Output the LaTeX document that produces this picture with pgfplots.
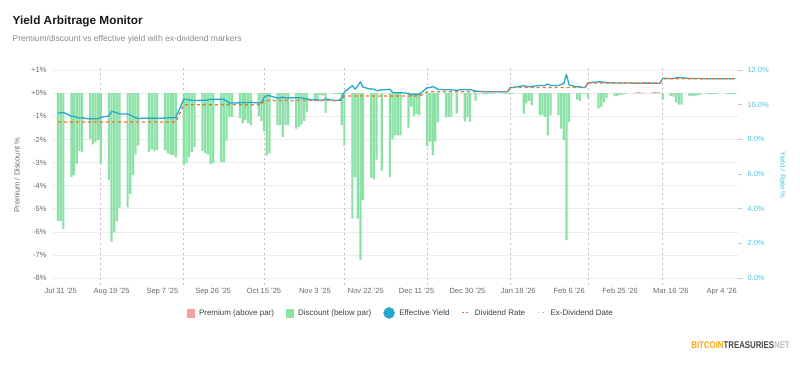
\documentclass[border=0pt]{standalone}
\usepackage{pgfplots}
\pgfplotsset{compat=1.18}
\usepackage{pgfplotstable}
\usepackage{fontspec}
\setmainfont{Liberation Sans}
\usepackage{graphicx}
\definecolor{disc}{RGB}{140,225,166}
\definecolor{prem}{RGB}{242,160,160}
\definecolor{yld}{RGB}{38,168,204}
\definecolor{ratec}{RGB}{232,118,40}
\definecolor{exdiv}{RGB}{192,192,192}
\definecolor{gridc}{RGB}{236,236,236}
\definecolor{tickc}{RGB}{105,105,105}
\definecolor{rtick}{RGB}{84,194,220}
\definecolor{subt}{RGB}{135,135,135}
\definecolor{logoor}{RGB}{245,168,20}
\definecolor{logogr}{RGB}{70,70,70}

% d = days since Jul 31 2025; pd = premium/discount %; yld = effective yield %; rate = dividend rate %
\pgfplotstableread{
d pd yld rate
-1 -5.53 9.52 9
0 -5.53 9.52 9
1 -5.88 9.56 9
4 -3.62 9.34 9
5 -3.55 9.33 9
6 -3.05 9.28 9
7 -2.50 9.23 9
8 -2.55 9.24 9
11 -1.98 9.18 9
12 -2.22 9.20 9
13 -2.12 9.19 9
14 -2.02 9.19 9
15 -3.05 9.28 9
18 -3.76 9.35 9
19 -6.42 9.62 9
20 -6.02 9.58 9
21 -5.55 9.53 9
22 -4.96 9.47 9
25 -4.94 9.47 9
26 -4.36 9.41 9
27 -3.54 9.33 9
28 -2.66 9.25 9
29 -2.27 9.21 9
33 -2.54 9.23 9
34 -2.44 9.22 9
35 -2.52 9.23 9
36 -2.45 9.22 9
39 -2.47 9.23 9
40 -2.60 9.24 9
41 -2.66 9.25 9
42 -2.68 9.25 9
43 -2.78 9.26 9
46 -3.12 10.32 10
47 -3.04 10.31 10
48 -2.77 10.28 10
49 -2.54 10.26 10
50 -2.33 10.24 10
53 -2.50 10.26 10
54 -2.58 10.26 10
55 -2.66 10.27 10
56 -3.07 10.32 10
57 -3.03 10.31 10
60 -2.98 10.31 10
61 -2.98 10.31 10
62 -2.05 10.21 10
63 -1.02 10.10 10
64 -1.02 10.10 10
67 -1.08 10.11 10
68 -1.31 10.13 10
69 -1.15 10.12 10
70 -1.28 10.13 10
71 -1.38 10.14 10
74 -0.98 10.10 10
75 -1.20 10.12 10
76 -1.65 10.42 10.25
77 -2.70 10.53 10.25
78 -2.60 10.52 10.25
81 -1.38 10.39 10.25
82 -1.38 10.39 10.25
83 -1.89 10.45 10.25
84 -1.38 10.39 10.25
85 -1.38 10.39 10.25
88 -1.53 10.41 10.25
89 -1.46 10.40 10.25
90 -1.36 10.39 10.25
91 -1.20 10.37 10.25
92 -0.80 10.33 10.25
95 -0.33 10.28 10.25
96 -0.33 10.28 10.25
97 -0.08 10.26 10.25
98 -0.10 10.26 10.25
99 -0.85 10.34 10.25
102 -0.03 10.25 10.25
103 -0.03 10.25 10.25
104 -0.05 10.26 10.25
105 -1.38 10.39 10.25
106 -2.27 10.74 10.5
109 -5.43 11.10 10.5
110 -3.64 10.90 10.5
111 -5.43 11.10 10.5
112 -7.22 11.32 10.5
113 -4.63 11.01 10.5
116 -3.65 10.90 10.5
117 -3.73 10.91 10.5
118 -2.87 10.81 10.5
120 -3.35 10.86 10.5
123 -3.62 10.89 10.5
124 -2.00 10.71 10.5
125 -1.82 10.69 10.5
126 -1.82 10.69 10.5
127 -1.82 10.69 10.5
130 -1.49 10.66 10.5
131 -0.58 10.56 10.5
132 -1.00 10.61 10.5
133 -0.90 10.60 10.5
134 -0.95 10.60 10.5
137 -2.30 11.00 10.75
138 -2.10 10.98 10.75
139 -2.68 11.05 10.75
140 -2.10 10.98 10.75
141 -1.26 10.89 10.75
144 -1.05 10.86 10.75
145 -1.02 10.86 10.75
146 -1.02 10.86 10.75
148 -0.87 10.84 10.75
151 -1.22 10.88 10.75
152 -1.05 10.86 10.75
153 -1.24 10.88 10.75
155 -0.33 10.79 10.75
158 -0.05 10.76 10.75
159 -0.04 10.75 10.75
160 -0.02 10.75 10.75
161 -0.02 10.75 10.75
162 -0.02 10.75 10.75
165 -0.02 10.75 10.75
166 -0.02 10.75 10.75
167 -0.02 10.75 10.75
168 -0.03 11.00 11
169 -0.03 11.00 11
173 -0.88 11.10 11
174 -0.44 11.05 11
175 -0.33 11.04 11
176 -0.52 11.06 11
179 -0.95 11.11 11
180 -0.95 11.11 11
181 -1.02 11.11 11
182 -1.82 11.20 11
183 -0.96 11.11 11
186 -0.95 11.11 11
187 -1.53 11.17 11
188 -2.03 11.23 11
189 -6.36 11.75 11
190 -1.24 11.14 11
193 -0.28 11.03 11
194 -0.33 11.04 11
195 -0.02 11.00 11
196 -0.02 11.00 11
197 -0.20 11.27 11.25
201 -0.66 11.32 11.25
202 -0.58 11.32 11.25
203 -0.40 11.30 11.25
204 -0.20 11.27 11.25
207 -0.13 11.26 11.25
208 -0.12 11.26 11.25
209 -0.07 11.26 11.25
210 -0.05 11.26 11.25
211 -0.03 11.25 11.25
214 -0.01 11.25 11.25
215 0 11.245 11.25
216 0 11.24 11.25
217 0 11.245 11.25
218 0 11.25 11.25
221 0 11.245 11.25
222 0 11.24 11.25
223 0 11.24 11.25
224 0 11.245 11.25
225 -0.27 11.53 11.5
228 -0.12 11.51 11.5
229 -0.15 11.52 11.5
230 -0.40 11.55 11.5
231 -0.50 11.56 11.5
232 -0.50 11.56 11.5
235 -0.13 11.52 11.5
236 -0.12 11.51 11.5
237 -0.10 11.51 11.5
238 -0.10 11.51 11.5
239 -0.06 11.51 11.5
242 -0.04 11.50 11.5
243 -0.04 11.50 11.5
244 -0.03 11.50 11.5
245 -0.03 11.50 11.5
249 -0.03 11.50 11.5
250 -0.04 11.50 11.5
251 -0.04 11.50 11.5
252 -0.03 11.50 11.5
}\maintab

\pgfplotstableread{
d pd
215 0.04
216 0.05
217 0.03
218 0.01
221 0.03
222 0.06
223 0.05
224 0.04
}\premtab

\begin{document}
\begin{tikzpicture}
\path[use as bounding box] (0pt,0pt) rectangle (800pt,-364pt);
\node[anchor=base west, inner sep=0pt, font=\bfseries\fontsize{11.8}{13}\selectfont, text=black!90] at (12.5pt,-24pt) {Yield Arbitrage Monitor};
\node[anchor=base west, inner sep=0pt, font=\fontsize{8.5}{10}\selectfont, text=subt] at (12.5pt,-41.5pt) {Premium/discount vs effective yield with ex-dividend markers};

\begin{axis}[
  at={(53pt,-285pt)}, anchor=south west, scale only axis,
  width=685pt, height=220pt,
  xmin=-2.877, xmax=253.1, ymin=-8.3, ymax=1.22,
  axis line style={draw=none},
  major tick style={draw=none},
  xtick={0,19,38,57,76,95,114,133,152,171,190,209,228,247},
  xticklabels={Jul 31 '25,Aug 19 '25,Sep 7 '25,Sep 26 '25,Oct 15 '25,Nov 3 '25,Nov 22 '25,Dec 11 '25,Dec 30 '25,Jan 18 '26,Feb 6 '26,Feb 25 '26,Mar 16 '26,Apr 4 '26},
  ytick={-8,-7,...,1},
  yticklabels={-8\%,-7\%,-6\%,-5\%,-4\%,-3\%,-2\%,-1\%,+0\%,+1\%},
  ticklabel style={font=\fontsize{7.5}{9}\selectfont, text=tickc},
  yticklabel style={xshift=-3pt},
  ymajorgrids, major grid style={gridc, line width=0.6pt},
  extra x ticks={15,46,76,106,137,168,197,225},
  extra x tick labels={},
  extra x tick style={grid=major, major grid style={exdiv, dash pattern=on 2.5pt off 2.5pt, line width=0.7pt}, major tick style={draw=none}},
  ylabel={Premium / Discount \%},
  ylabel style={at={(axis description cs:-0.0526,0.5)}, anchor=center, font=\fontsize{7.5}{9}\selectfont, text=tickc},
  legend columns=5,
  legend style={draw=none, fill=none, at={(axis description cs:0.508,-0.127)}, anchor=center,
    font=\fontsize{8}{10}\selectfont, text=black!75,
    /tikz/every odd column/.append style={column sep=2.5pt},
    /tikz/every even column/.append style={column sep=10pt}},
]
\addplot[ybar, bar width=0.82, bar shift=0pt, fill=disc, draw=none, forget plot] table[x=d,y=pd]{\maintab};
\addplot[ybar, bar width=0.82, bar shift=0pt, fill=prem, draw=none, forget plot] table[x=d,y=pd]{\premtab};

\addlegendimage{legend image code/.code={\fill[prem] (0pt,-4pt) rectangle (7pt,4pt);}}
\addlegendentry{Premium (above par)}
\addlegendimage{legend image code/.code={\fill[disc] (0pt,-4pt) rectangle (7pt,4pt);}}
\addlegendentry{Discount (below par)}
\addlegendimage{legend image code/.code={\fill[yld] (5pt,0pt) circle (5.5pt);}}
\addlegendentry{Effective Yield}
\addlegendimage{legend image code/.code={\draw[ratec, line width=0.9pt, dash pattern=on 1.8pt off 2.5pt] (0pt,0pt) -- (8pt,0pt);}}
\addlegendentry{Dividend Rate}
\addlegendimage{legend image code/.code={\draw[exdiv, line width=0.9pt, dash pattern=on 1.8pt off 2.5pt] (0pt,0pt) -- (8pt,0pt);}}
\addlegendentry{Ex-Dividend Date}
\end{axis}

\begin{axis}[
  at={(53pt,-285pt)}, anchor=south west, scale only axis,
  width=685pt, height=220pt,
  xmin=-2.877, xmax=253.1, ymin=-0.4, ymax=12.2933,
  axis x line=none, axis y line*=right,
  axis line style={draw=none},
  ytick={0,2,...,12},
  yticklabels={0.0\%,2.0\%,4.0\%,6.0\%,8.0\%,10.0\%,12.0\%},
  yticklabel style={font=\fontsize{7.5}{9}\selectfont, text=rtick, xshift=2pt},
  tick align=outside, major tick length=4pt,
  major tick style={draw=black!22, line width=0.6pt},
  ylabel={Yield / Rate \%},
  ylabel style={at={(axis description cs:1.0657,0.5)}, anchor=center, rotate=180, font=\fontsize{7.5}{9}\selectfont, text=rtick},
]
\addplot[yld, line width=1.3pt, line join=round] table[x=d,y=yld]{\maintab};
\addplot[ratec, line width=1.3pt, dash pattern=on 3pt off 3pt] table[x=d,y=rate]{\maintab};
\end{axis}

\node[anchor=base east, inner sep=0pt] at (790pt,-348.5pt) {\scalebox{0.8}[1]{\bfseries\fontsize{9.8}{11}\selectfont\textcolor{logoor}{BITCOIN}\textcolor{logogr}{TREASURIES}\textcolor{black!25}{NET}}};
\end{tikzpicture}
\end{document}
